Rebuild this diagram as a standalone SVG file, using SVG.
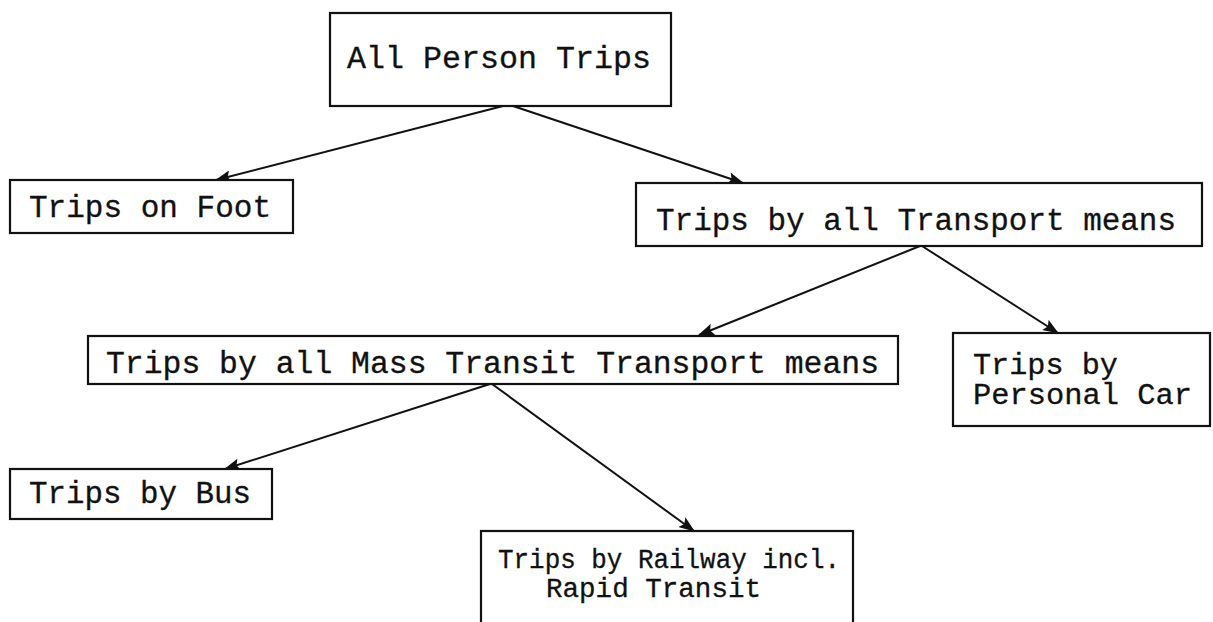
<svg xmlns="http://www.w3.org/2000/svg" width="1213" height="622" viewBox="0 0 1213 622">
  <style>
    .box { fill: #ffffff; stroke: #111111; stroke-width: 2.2; }
    .lbl { font-family: "Liberation Mono", "Courier New", monospace; font-size: 31px; fill: #111111; stroke: #111111; stroke-width: 0.3; }
    .md { font-size: 29px; }
    .sm { font-size: 27px; }
    .edge { fill: none; stroke: #111111; stroke-width: 2; }
  </style>
  <defs>
    <marker id="arrow" viewBox="0 0 16 12" refX="15" refY="6" markerWidth="16" markerHeight="12" markerUnits="userSpaceOnUse" orient="auto">
      <path d="M0,0 L16,6 L0,12 L3,6 Z" fill="#111111"/>
    </marker>
  </defs>
  <rect width="1213" height="622" fill="#ffffff"/>

  <!-- tree edges, parent bottom to child top -->
  <g id="connectors">
    <line class="edge" x1="503" y1="106" x2="216" y2="180" marker-end="url(#arrow)"/>
    <line class="edge" x1="513" y1="106" x2="743" y2="183" marker-end="url(#arrow)"/>
    <line class="edge" x1="920" y1="246" x2="699" y2="335" marker-end="url(#arrow)"/>
    <line class="edge" x1="922" y1="246" x2="1058" y2="333" marker-end="url(#arrow)"/>
    <line class="edge" x1="490" y1="384" x2="225" y2="469" marker-end="url(#arrow)"/>
    <line class="edge" x1="492" y1="384" x2="694" y2="531" marker-end="url(#arrow)"/>
  </g>

  <g id="all-person-trips">
    <rect class="box" x="330" y="13" width="341" height="93"/>
    <text class="lbl" x="347" y="68" textLength="304" lengthAdjust="spacingAndGlyphs">All Person Trips</text>
  </g>

  <g id="trips-on-foot">
    <rect class="box" x="10" y="180" width="283" height="53"/>
    <text class="lbl" x="29" y="217" textLength="242" lengthAdjust="spacingAndGlyphs">Trips on Foot</text>
  </g>

  <g id="trips-transport">
    <rect class="box" x="636" y="183" width="566" height="63"/>
    <text class="lbl" x="656" y="230" textLength="520" lengthAdjust="spacingAndGlyphs">Trips by all Transport means</text>
  </g>

  <g id="trips-mass-transit">
    <rect class="box" x="88" y="336" width="810" height="48"/>
    <text class="lbl" x="106" y="373" textLength="773" lengthAdjust="spacingAndGlyphs">Trips by all Mass Transit Transport means</text>
  </g>

  <g id="trips-personal-car">
    <rect class="box" x="953" y="333" width="257" height="93"/>
    <text class="lbl md" x="973" y="374" textLength="145" lengthAdjust="spacingAndGlyphs">Trips by</text>
    <text class="lbl md" x="973" y="404" textLength="219" lengthAdjust="spacingAndGlyphs">Personal Car</text>
  </g>

  <g id="trips-bus">
    <rect class="box" x="10" y="469" width="262" height="50"/>
    <text class="lbl" x="29" y="503" textLength="222" lengthAdjust="spacingAndGlyphs">Trips by Bus</text>
  </g>

  <g id="trips-railway">
    <rect class="box" x="481" y="531" width="372" height="100"/>
    <text class="lbl sm" x="498" y="568" textLength="342" lengthAdjust="spacingAndGlyphs">Trips by Railway incl.</text>
    <text class="lbl sm" x="546" y="597" textLength="215" lengthAdjust="spacingAndGlyphs">Rapid Transit</text>
  </g>
</svg>
